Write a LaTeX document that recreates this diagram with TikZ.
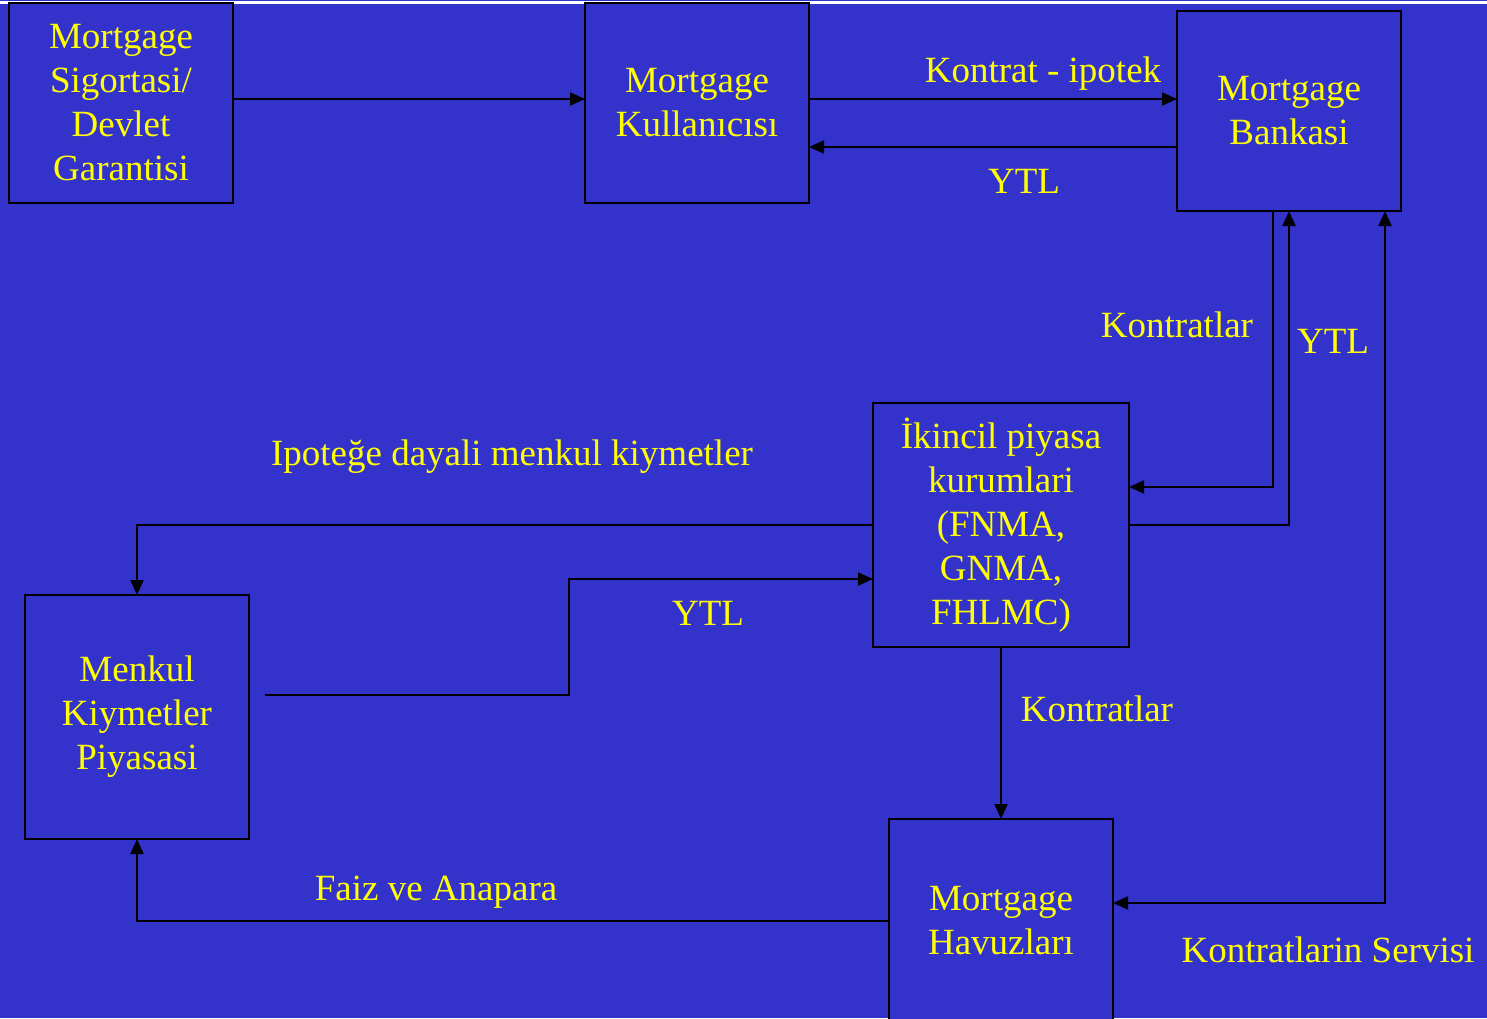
\documentclass[tikz,border=0pt]{standalone}
\usepackage{fontspec}
\setmainfont{Liberation Serif}
\usetikzlibrary{positioning}
\usetikzlibrary{calc}
\usetikzlibrary{arrows.meta}
\definecolor{slideblue}{RGB}{51,51,204}
\definecolor{slideyellow}{RGB}{255,255,0}

\begin{document}
\begin{tikzpicture}[x=1pt, y=1pt,
    box/.style={draw=black, line width=2pt, fill=slideblue, minimum width=224pt, minimum height=200pt, inner sep=0pt, outer sep=0pt, align=center, text=slideyellow, font=\fontsize{37}{44}\selectfont},
    lbl/.style={text=slideyellow, font=\fontsize{37}{44}\selectfont, anchor=base, inner sep=0pt},
    flow/.style={draw=black, line width=2pt, -{Triangle[length=15pt, width=13pt]}},
    both/.style={draw=black, line width=2pt, {Triangle[length=15pt, width=13pt]}-{Triangle[length=15pt, width=13pt]}}]
            \useasboundingbox (0,0) rectangle (1487,-1018);
            \fill[slideblue] (0,0) rectangle (1487,-1018);
            \draw[white, line width=2.5pt] (0,-2.6) -- (1487,-2.6);

            \node[box] (sigorta) at (121,-103) {Mortgage\\Sigortasi/\\Devlet\\Garantisi};
            \node[box, right = 352pt of sigorta] (kullanici) {Mortgage\\Kullanıcısı};
            \node[box, right = 368pt of kullanici, yshift=-8pt] (banka) {Mortgage\\Bankasi};
            \node[box, minimum width=256pt, minimum height=244pt, below left = 192pt and 48pt of banka] (ikincil) {İkincil piyasa\\kurumlari\\(FNMA,\\GNMA,\\FHLMC)};
            \node[box, minimum height=244pt, below = 392pt of sigorta, xshift=16pt] (menkul) {Menkul\\Kiymetler\\Piyasasi};
            \node[box, minimum height=204pt, below = 172pt of ikincil] (havuz) {Mortgage\\Havuzları};
            \coordinate (ytlstart) at ([xshift=16pt, yshift=22pt]menkul.east);

            \draw[flow] ([yshift=4pt]sigorta.east) -- ([yshift=4pt]kullanici.west);
            \draw[flow] ([yshift=4pt]kullanici.east) -- ([yshift=12pt]banka.west);
            \draw[flow] ([yshift=-36pt]banka.west) -- ([yshift=-44pt]kullanici.east);
            \draw[flow] ([xshift=-16pt]banka.south) |- ([yshift=38pt]ikincil.east);
            \draw[flow] (ikincil.east) -| (banka.south);
            \draw[both] ([yshift=18pt]havuz.east) -| ([xshift=96pt]banka.south);
            \draw[flow] (ikincil.west) -| (menkul.north);
            \draw[flow] (ytlstart) -- ++(304,0) |- ([yshift=-54pt]ikincil.west);
            \draw[flow] (ikincil.south) -- (havuz.north);
            \draw[flow] (havuz.west) -| (menkul.south);

            \node[lbl] (kontratlbl) at (1043,-82) {Kontrat - ipotek};
            \node[lbl] (ytltop) at (1024,-193) {YTL};
            \node[lbl] (kontratlar1) at (1177,-337) {Kontratlar};
            \node[lbl] (ytlright) at (1333,-353) {YTL};
            \node[lbl] (ipotek) at (512,-465) {Ipoteğe dayali menkul kiymetler};
            \node[lbl] (ytlmid) at (708,-625) {YTL};
            \node[lbl] (kontratlar2) at (1097,-721) {Kontratlar};
            \node[lbl] (faiz) at (436,-900) {Faiz ve Anapara};
            \node[lbl] (servis) at (1328,-962) {Kontratlarin Servisi};
        \end{tikzpicture}
\end{document}
